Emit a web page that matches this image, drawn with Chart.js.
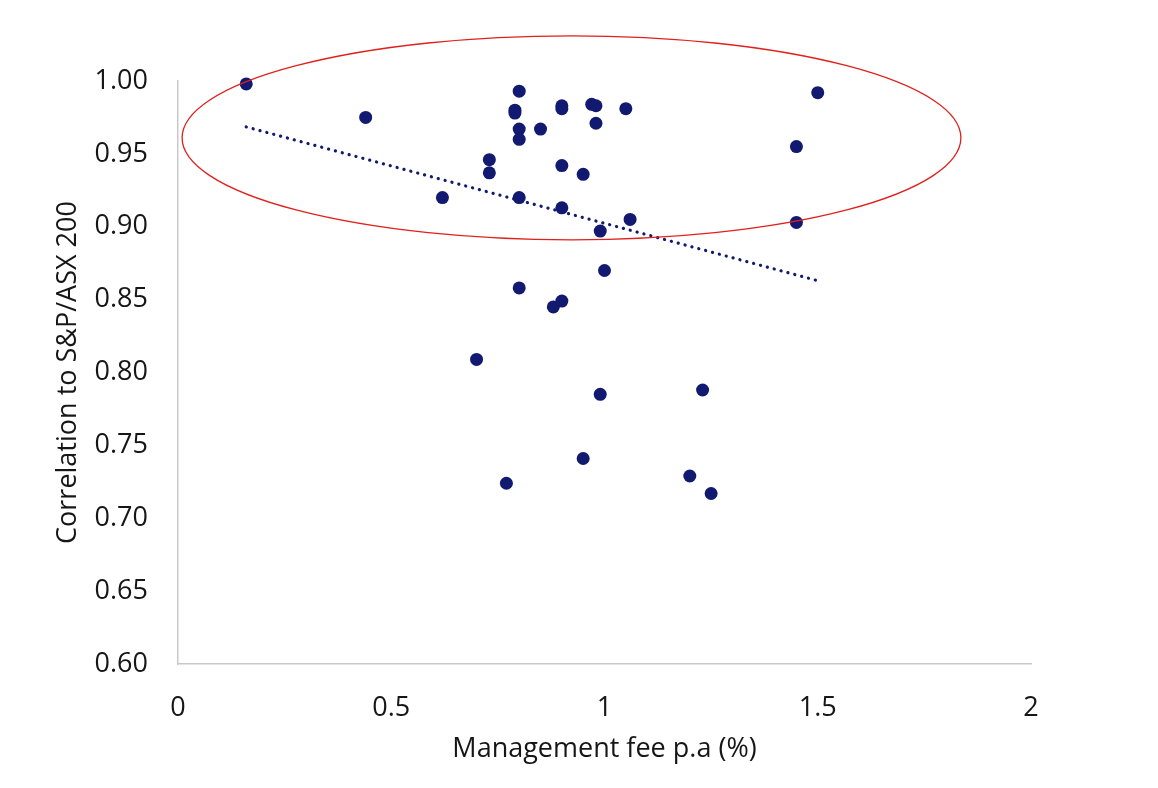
<!DOCTYPE html>
<html>
<head>
<meta charset="utf-8">
<script src="https://cdn.jsdelivr.net/npm/chart.js@4.4.0/dist/chart.umd.min.js"></script>
<style>
  html, body { margin: 0; padding: 0; background: #fff; }
  #wrap { width: 1158px; height: 788px; }
</style>
</head>
<body>
<div id="wrap"><canvas id="chart_fees"></canvas></div>
<script>
// management fee (%) vs correlation
const fees = [0.16, 0.44, 0.62, 0.70, 0.73, 0.73, 0.77, 0.79, 0.79, 0.80, 0.80, 0.80, 0.80, 0.80,
  0.85, 0.88, 0.90, 0.90, 0.90, 0.90, 0.90, 0.95, 0.95, 0.97, 0.98, 0.98, 0.99, 0.99, 1.00,
  1.05, 1.06, 1.20, 1.23, 1.25, 1.45, 1.45, 1.50];
const correlations = [0.998, 0.975, 0.920, 0.809, 0.946, 0.937, 0.724, 0.980, 0.978, 0.993, 0.967, 0.960, 0.920, 0.858,
  0.967, 0.845, 0.983, 0.981, 0.942, 0.913, 0.849, 0.936, 0.741, 0.984, 0.983, 0.971, 0.897, 0.785, 0.870,
  0.981, 0.905, 0.729, 0.788, 0.717, 0.955, 0.903, 0.992];

// linear trend line end points
const trendX = [0.16, 1.50];
const trendY = [0.9685, 0.863];

const xTicks = [0, 0.5, 1, 1.5, 2];
const yTicks = [0.60, 0.65, 0.70, 0.75, 0.80, 0.85, 0.90, 0.95, 1.00];

// red ellipse drawn round the top cluster (data units)
const ring = { x: 0.9226, y: 0.961, rx: 0.913, ry: 0.070 };

const navy = "#111a70";
const inkColor = "#161616";
const axisGrey = "#c9c9c9";

const ringPlugin = {
  id: "ring",
  afterDatasetsDraw(chart) {
    const xs = chart.scales.x, ys = chart.scales.y;
    const cx = xs.getPixelForValue(ring.x);
    const cy = ys.getPixelForValue(ring.y);
    const rx = xs.getPixelForValue(ring.x + ring.rx) - cx;
    const ry = cy - ys.getPixelForValue(ring.y + ring.ry);
    const ctx = chart.ctx;
    ctx.save();
    ctx.beginPath();
    ctx.ellipse(cx, cy, rx, ry, 0, 0, Math.PI * 2);
    ctx.strokeStyle = "#e0201c";
    ctx.lineWidth = 1.3;
    ctx.stroke();
    ctx.restore();
  }
};

Chart.defaults.font.family = "'Open Sans', sans-serif";
Chart.defaults.color = inkColor;

const config = {
  type: "scatter",
  data: {
    datasets: [
      {
        label: "Funds",
        data: fees.map((f, i) => ({ x: f, y: correlations[i] })),
        backgroundColor: navy,
        borderColor: navy,
        pointRadius: 6.5,
        pointHoverRadius: 6.5,
        borderWidth: 0,
        clip: false,
        order: 1
      },
      {
        label: "Trend",
        type: "line",
        data: trendX.map((x, i) => ({ x: x, y: trendY[i] })),
        borderColor: navy,
        borderWidth: 3.2,
        borderDash: [0.1, 7],
        borderCapStyle: "round",
        pointRadius: 0,
        fill: false,
        order: 2
      }
    ]
  },
  options: {
    responsive: true,
    maintainAspectRatio: false,
    animation: false,
    layout: { padding: { left: 0, top: 81, right: 127, bottom: 0 } },
    plugins: {
      legend: { display: false },
      tooltip: { enabled: false }
    },
    scales: {
      x: {
        type: "linear",
        min: 0,
        max: 2,
        afterBuildTicks(scale) { scale.ticks = xTicks.map(v => ({ value: v })); },
        afterFit(scale) { scale.height = 124; },
        grid: { display: false, drawTicks: false },
        border: { display: true, color: axisGrey, width: 1.5 },
        ticks: {
          padding: 28,
          font: { size: 27 },
          color: inkColor,
          callback: v => String(v)
        },
        title: {
          display: true,
          text: "Management fee p.a (%)",
          font: { size: 27 },
          color: inkColor,
          padding: { top: 0, bottom: 22 }
        }
      },
      y: {
        min: 0.6,
        max: 1.0,
        afterBuildTicks(scale) { scale.ticks = yTicks.map(v => ({ value: v })); },
        afterFit(scale) { scale.width = 178; },
        grid: { display: false, drawTicks: false },
        border: { display: true, color: axisGrey, width: 1.5 },
        ticks: {
          padding: 30,
          font: { size: 27 },
          color: inkColor,
          callback: v => Number(v).toFixed(2)
        },
        title: {
          display: true,
          text: "Correlation to S&P/ASX 200",
          font: { size: 27 },
          color: inkColor,
          padding: { top: 52, bottom: 0 }
        }
      }
    }
  },
  plugins: [ringPlugin]
};

const feeChart = new Chart(document.getElementById("chart_fees"), config);
</script>
</body>
</html>
